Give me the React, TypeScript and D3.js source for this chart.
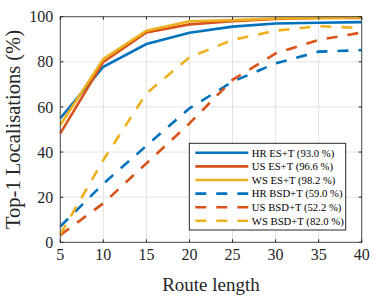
import React from "react"
import * as d3 from "d3"

const routeLengths = [5, 10, 15, 20, 25, 30, 35, 40]

const hrES = [55, 77.8, 87.9, 92.9, 95.6, 97, 97.3, 97.6]
const usES = [48.3, 80, 93, 96.6, 98, 99, 99.4, 99.5]
const wsES = [52, 81.3, 93.8, 98, 98.5, 99.2, 99.5, 99.7]
const hrBSD = [7, 26, 42.8, 59.4, 71.2, 79.3, 84.5, 85.2]
const usBSD = [3.2, 17.3, 35, 52.7, 72, 83.7, 89.7, 93]
const wsBSD = [3.5, 36.5, 66, 82, 89.7, 93.8, 95.8, 95]

const seriesNames = [
	"HR ES+T (93.0 %)",
	"US ES+T (96.6 %)",
	"WS ES+T (98.2 %)",
	"HR BSD+T (59.0 %)",
	"US BSD+T (52.2 %)",
	"WS BSD+T (82.0 %)"
]

const xTicks = [5, 10, 15, 20, 25, 30, 35, 40]
const yTicks = [0, 20, 40, 60, 80, 100]

const BLUE = "#0072BD", RED = "#D95319", YELLOW = "#EDB120"
const series = [
	{ name: seriesNames[0], values: hrES, color: BLUE, dashed: false },
	{ name: seriesNames[1], values: usES, color: RED, dashed: false },
	{ name: seriesNames[2], values: wsES, color: YELLOW, dashed: false },
	{ name: seriesNames[3], values: hrBSD, color: BLUE, dashed: true },
	{ name: seriesNames[4], values: usBSD, color: RED, dashed: true },
	{ name: seriesNames[5], values: wsBSD, color: YELLOW, dashed: true }
]

const WIDTH = 374, HEIGHT = 296
const margin = { left: 60.3, top: 16.7, right: 12.3, bottom: 53.7 }
const FONT = "'Liberation Serif', 'Times New Roman', serif"
const DASH = "11,10"

export default function App() {
	const w = WIDTH - margin.left - margin.right,
		h = HEIGHT - margin.top - margin.bottom

	const x = d3.scaleLinear().domain([5, 40]).range([0, w])
	const y = d3.scaleLinear().domain([0, 100]).range([h, 0])

	const line = d3.line<number>()
		.x((d, i) => x(routeLengths[i]))
		.y(d => y(d))

	const legend = { x: 129, y: 126.6, w: 156.4, h: 86.7 }
	const rowY = (i: number) => legend.y + 9.5 + i * 13.6

	return (
		<svg width={WIDTH} height={HEIGHT} style={{ position: "absolute", left: 0, top: 0, display: "block" }}>
			<rect width={WIDTH} height={HEIGHT} fill="#fff" />
			<g transform={`translate(${margin.left},${margin.top})`}>
				{/* grid */}
				{xTicks.map(t => (
					<line key={"gx" + t} x1={x(t)} x2={x(t)} y1={0} y2={h} stroke="#e3e3e3" strokeWidth={1} />
				))}
				{yTicks.map(t => (
					<line key={"gy" + t} x1={0} x2={w} y1={y(t)} y2={y(t)} stroke="#e3e3e3" strokeWidth={1} />
				))}

				{/* lines */}
				{series.map(s => (
					<path key={s.name} d={line(s.values) || ""} fill="none" stroke={s.color}
						strokeWidth={2.6} strokeDasharray={s.dashed ? DASH : undefined} />
				))}

				{/* box + ticks */}
				<rect x={0} y={0} width={w} height={h} fill="none" stroke="#4d4d4d" strokeWidth={1} />
				{xTicks.map(t => (
					<g key={"tx" + t}>
						<line x1={x(t)} x2={x(t)} y1={h} y2={h - 3} stroke="#262626" />
						<line x1={x(t)} x2={x(t)} y1={0} y2={3} stroke="#262626" />
						<text x={x(t)} y={h + 18} textAnchor="middle" fontFamily={FONT} fontSize={16} fill="#262626">{t}</text>
					</g>
				))}
				{yTicks.map(t => (
					<g key={"ty" + t}>
						<line x1={0} x2={3} y1={y(t)} y2={y(t)} stroke="#262626" />
						<line x1={w} x2={w - 3} y1={y(t)} y2={y(t)} stroke="#262626" />
						<text x={-7} y={y(t)} dy="0.35em" textAnchor="end" fontFamily={FONT} fontSize={16} fill="#262626">{t}</text>
					</g>
				))}

				{/* legend */}
				<rect x={legend.x} y={legend.y} width={legend.w} height={legend.h} fill="#fff" stroke="#262626" strokeWidth={1} />
				{series.map((s, i) => (
					<g key={"lg" + i}>
						<line x1={legend.x + 6} x2={legend.x + 59} y1={rowY(i)} y2={rowY(i)} stroke={s.color}
							strokeWidth={2.6} strokeDasharray={s.dashed ? DASH : undefined} />
						<text x={legend.x + 62.5} y={rowY(i)} dy="0.35em" fontFamily={FONT} fontSize={10.7} fill="#000">{s.name}</text>
					</g>
				))}
			</g>

			{/* axis titles */}
			<text x={margin.left + w / 2} y={290.5} textAnchor="middle" fontFamily={FONT} fontSize={19} fill="#262626">Route length</text>
			<text transform={`translate(19.5,${margin.top + h / 2}) rotate(-90)`} textAnchor="middle" fontFamily={FONT} fontSize={20.5} fill="#262626">Top-1 Localisations (%)</text>
		</svg>
	)
}
